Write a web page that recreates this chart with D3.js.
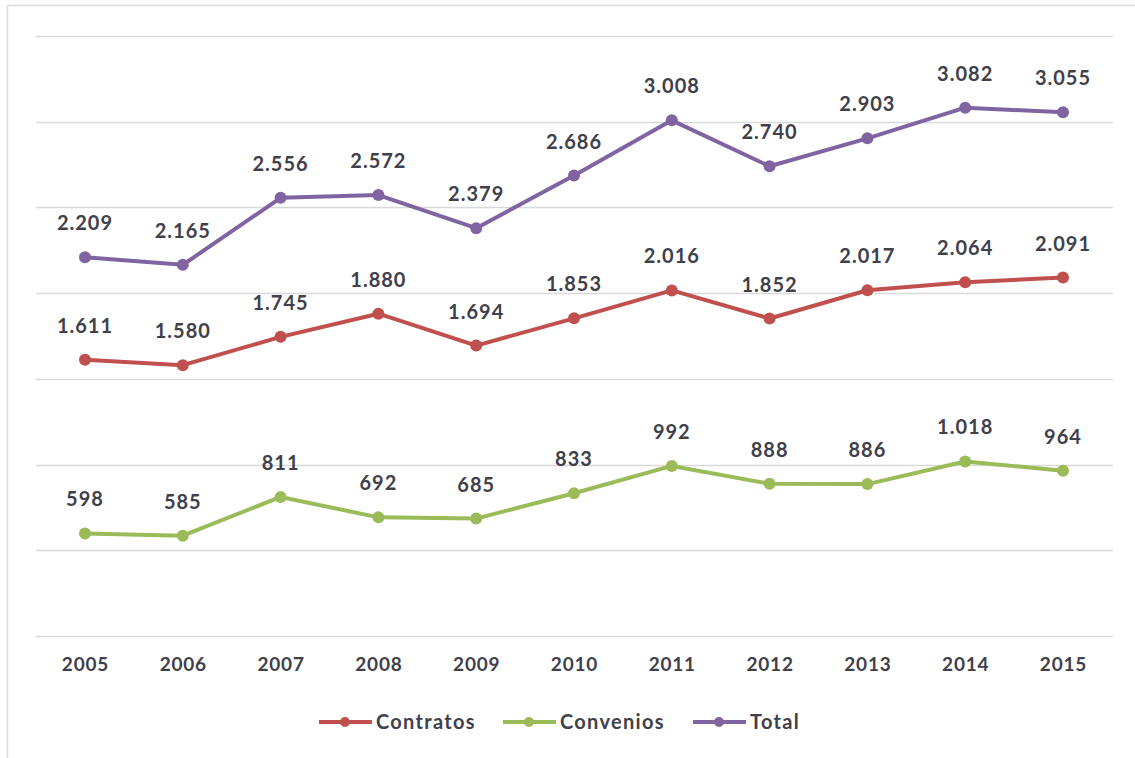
<!DOCTYPE html>
<html><head><meta charset="utf-8">
<script src="https://cdn.jsdelivr.net/npm/d3@7"></script>
<style>body{margin:0;background:#fff}svg{display:block}</style>
</head><body>
<svg id="c" width="1135" height="758"></svg>
<script>
const years = ["2005","2006","2007","2008","2009","2010","2011","2012","2013","2014","2015"];
const contratos = [1611,1580,1745,1880,1694,1853,2016,1852,2017,2064,2091];
const convenios = [598,585,811,692,685,833,992,888,886,1018,964];
const total = [2209,2165,2556,2572,2379,2686,3008,2740,2903,3082,3055];
const seriesNames = ["Contratos","Convenios","Total"];
const seriesColors = ["#c0504d","#9bbb59","#8064a2"];
const gridTicks = [0,500,1000,1500,2000,2500,3000,3500];

const svg = d3.select("#c");
const fmt = v => d3.format(",")(v).replace(/,/g,".");
const font = "Lato, 'Open Sans', sans-serif";
const textColor = "#40404a";

// border
svg.append("rect").attr("x",7.5).attr("y",5.5).attr("width",1140).attr("height",760)
  .attr("fill","none").attr("stroke","#d9d9d9").attr("stroke-width",1.5);

const x = d3.scalePoint().domain(years).range([85,1063]);
const y = d3.scaleLinear().domain([0,3500]).range([636,36]);

// gridlines
svg.append("g").selectAll("line").data(gridTicks).join("line")
  .attr("x1",36).attr("x2",1113)
  .attr("y1",d=>Math.round(y(d))+0.5).attr("y2",d=>Math.round(y(d))+0.5)
  .attr("stroke","#d9d9d9").attr("stroke-width",1.3);

// x axis labels
const xAxis = d3.axisBottom(x).tickSize(0).tickPadding(0);
const ax = svg.append("g").attr("transform","translate(0,657)").call(xAxis);
ax.select(".domain").remove();
ax.selectAll("text").attr("font-family",font).attr("font-weight","bold")
  .attr("font-size","19px").attr("fill",textColor).attr("dy","0.71em")
  .attr("letter-spacing","0.8px");

const data = [contratos, convenios, total];
const line = d3.line().x((d,i)=>x(years[i])).y(d=>y(d));

data.forEach((vals,si)=>{
  const g = svg.append("g");
  g.append("path").datum(vals).attr("d",line).attr("fill","none")
    .attr("stroke",seriesColors[si]).attr("stroke-width",4).attr("stroke-linejoin","round");
  g.selectAll("circle").data(vals).join("circle")
    .attr("cx",(d,i)=>x(years[i])).attr("cy",d=>y(d)).attr("r",6)
    .attr("fill",seriesColors[si]);
  g.selectAll("text").data(vals).join("text")
    .attr("x",(d,i)=>x(years[i])).attr("y",d=>y(d)-27)
    .attr("text-anchor","middle").attr("font-family",font).attr("font-weight","bold")
    .attr("font-size","20px").attr("fill",textColor).attr("letter-spacing","1px").text(d=>fmt(d));
});

// legend
const legX = [319,503,693];
seriesNames.forEach((n,i)=>{
  const g = svg.append("g").attr("transform",`translate(${legX[i]},722)`);
  g.append("line").attr("x1",0).attr("x2",53).attr("y1",0).attr("y2",0)
    .attr("stroke",seriesColors[i]).attr("stroke-width",4);
  g.append("circle").attr("cx",26).attr("cy",0).attr("r",5).attr("fill",seriesColors[i]);
  g.append("text").attr("x",57).attr("y",0).attr("dy","0.35em")
    .attr("font-family",font).attr("font-weight","bold").attr("font-size","20px")
    .attr("fill",textColor).attr("letter-spacing","1.3px").text(n);
});
</script>
</body></html>
